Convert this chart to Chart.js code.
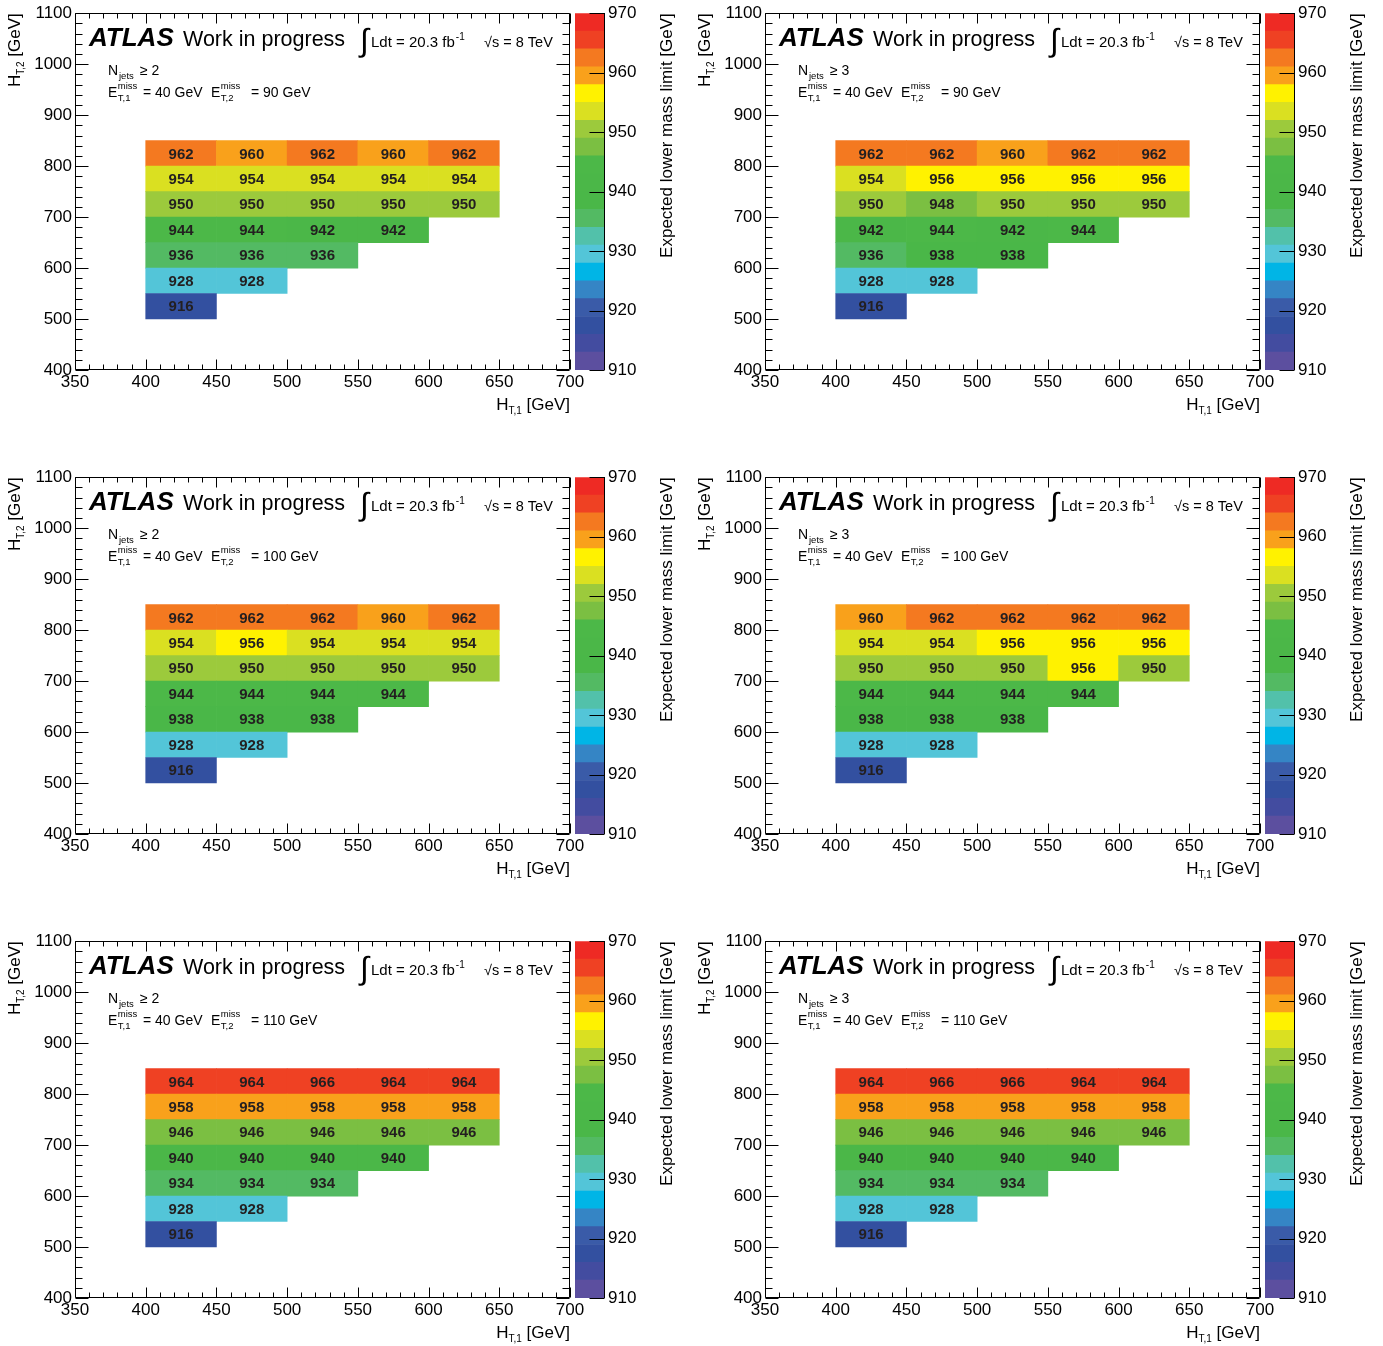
<!DOCTYPE html>
<html>
<head>
<meta charset="utf-8">
<script src="https://cdn.jsdelivr.net/npm/chart.js@4/dist/chart.umd.min.js"></script>
<style>
html,body{margin:0;padding:0;background:#fff;}
#wrap{position:relative;width:1383px;height:1346px;overflow:hidden;}
.panel{position:absolute;width:690px;height:464px;}
.panel canvas{position:absolute;}
</style>
</head>
<body>
<div id="wrap"></div>
<script>
// ---------------- DATA ----------------
const xEdges = [400, 450, 500, 550, 600, 650];            // H_T,1 bin edges [GeV]
const yEdges = [500, 550, 600, 650, 700, 750, 800, 850];  // H_T,2 bin edges [GeV]
const xTicks = [350, 400, 450, 500, 550, 600, 650, 700];
const yTicks = [400, 500, 600, 700, 800, 900, 1000, 1100];
const zTicks = [910, 920, 930, 940, 950, 960, 970];
const paletteEdges = [910, 913, 916, 919, 922, 925, 928, 931, 934, 937, 940, 943, 946, 949, 952, 955, 958, 961, 964, 967, 970];
const paletteColors = ['#5C4F9F', '#434CA0', '#3350A0', '#3A5BA8', '#3585C5', '#00B5E6', '#53C5D8', '#52C1AA', '#53BA63', '#4AB748',
                       '#4BB748', '#4CB848', '#7BBF42', '#9CCA3C', '#DAE021', '#FFF200', '#F9A11B', '#F47920', '#EF4123', '#EE2A24'];

// rows listed from top (H_T,2 800-850) to bottom (500-550); columns from H_T,1 = 400
const limitsNj2Met90 = [
  [962, 960, 962, 960, 962],
  [954, 954, 954, 954, 954],
  [950, 950, 950, 950, 950],
  [944, 944, 942, 942],
  [936, 936, 936],
  [928, 928],
  [916]
];
const limitsNj3Met90 = [
  [962, 962, 960, 962, 962],
  [954, 956, 956, 956, 956],
  [950, 948, 950, 950, 950],
  [942, 944, 942, 944],
  [936, 938, 938],
  [928, 928],
  [916]
];
const limitsNj2Met100 = [
  [962, 962, 962, 960, 962],
  [954, 956, 954, 954, 954],
  [950, 950, 950, 950, 950],
  [944, 944, 944, 944],
  [938, 938, 938],
  [928, 928],
  [916]
];
const limitsNj3Met100 = [
  [960, 962, 962, 962, 962],
  [954, 954, 956, 956, 956],
  [950, 950, 950, 956, 950],
  [944, 944, 944, 944],
  [938, 938, 938],
  [928, 928],
  [916]
];
const limitsNj2Met110 = [
  [964, 964, 966, 964, 964],
  [958, 958, 958, 958, 958],
  [946, 946, 946, 946, 946],
  [940, 940, 940, 940],
  [934, 934, 934],
  [928, 928],
  [916]
];
const limitsNj3Met110 = [
  [964, 966, 966, 964, 964],
  [958, 958, 958, 958, 958],
  [946, 946, 946, 946, 946],
  [940, 940, 940, 940],
  [934, 934, 934],
  [928, 928],
  [916]
];
const panelNjets = ['2', '3', '2', '3', '2', '3'];
const panelMet1 = [40, 40, 40, 40, 40, 40];
const panelMet2 = [90, 90, 100, 100, 110, 110];
const panelValues = [limitsNj2Met90, limitsNj3Met90, limitsNj2Met100, limitsNj3Met100, limitsNj2Met110, limitsNj3Met110];

// ---------------- HELPERS ----------------
const FONT = '"Liberation Sans", Arial, Helvetica, sans-serif';
Chart.defaults.font.family = FONT;
Chart.defaults.color = '#000';

function binColor(v) {
  for (let i = 0; i < paletteColors.length; i++) {
    if (v >= paletteEdges[i] && v < paletteEdges[i + 1]) return paletteColors[i];
  }
  return v >= paletteEdges[paletteEdges.length - 1] ? paletteColors[paletteColors.length - 1] : paletteColors[0];
}

function buildCells(values) {
  const cells = [];
  const n = values.length;
  values.forEach((row, r) => {
    const lo = yEdges[n - 1 - r], hi = yEdges[n - r];
    row.forEach((v, c) => cells.push({ x: (xEdges[c] + xEdges[c + 1]) / 2, y: [lo, hi], v: v }));
  });
  return cells;
}

function richWidth(ctx, parts) {
  let w = 0;
  parts.forEach(p => { ctx.font = p[1] + 'px ' + FONT; w += ctx.measureText(p[0]).width; });
  return w;
}
function drawRich(ctx, parts, x, y) {
  let cx = x;
  parts.forEach(p => {
    ctx.font = p[1] + 'px ' + FONT;
    ctx.fillText(p[0], cx, y + p[2]);
    cx += ctx.measureText(p[0]).width;
  });
}
function drawMet(ctx, x, y, sub) {
  ctx.font = '14px ' + FONT;
  ctx.fillText('E', x, y);
  const w = ctx.measureText('E').width;
  ctx.font = '9.5px ' + FONT;
  ctx.fillText('miss', x + w + 0.5, y - 8);
  ctx.fillText(sub, x + w + 0.5, y + 4);
}

const cellLabels = {
  id: 'cellLabels',
  afterDatasetsDraw(chart) {
    const ctx = chart.ctx;
    const meta = chart.getDatasetMeta(0);
    const data = chart.data.datasets[0].data;
    ctx.save();
    ctx.font = 'bold 15px ' + FONT;
    ctx.fillStyle = '#231F20';
    ctx.textAlign = 'center';
    ctx.textBaseline = 'middle';
    meta.data.forEach((el, i) => {
      const p = el.getProps(['x', 'y', 'base'], true);
      ctx.fillText(String(data[i].v), p.x, (p.y + p.base) / 2 + 1);
    });
    ctx.restore();
  }
};

const rootFrame = {
  id: 'rootFrame',
  afterDraw(chart) {
    const { ctx, chartArea: a, scales: { x, y } } = chart;
    ctx.save();
    ctx.strokeStyle = '#000';
    ctx.lineWidth = 1;
    ctx.beginPath();
    const L = Math.round(a.left) + 0.5, R = Math.round(a.right) - 0.5;
    const T = Math.round(a.top) + 0.5, B = Math.round(a.bottom) - 0.5;
    ctx.rect(L, T, R - L, B - T);
    const xStep = (xTicks[1] - xTicks[0]) / 5;
    for (let v = xTicks[0]; v <= xTicks[xTicks.length - 1]; v += xStep) {
      const px = Math.round(x.getPixelForValue(v)) + 0.5;
      const len = xTicks.includes(v) ? 10 : 5;
      ctx.moveTo(px, B); ctx.lineTo(px, B - len);
      ctx.moveTo(px, T); ctx.lineTo(px, T + len);
    }
    const yStep = (yTicks[1] - yTicks[0]) / 5;
    for (let v = yTicks[0]; v <= yTicks[yTicks.length - 1]; v += yStep) {
      const py = Math.round(y.getPixelForValue(v)) + 0.5;
      const len = yTicks.includes(v) ? 13 : 7;
      ctx.moveTo(L, py); ctx.lineTo(L + len, py);
      ctx.moveTo(R, py); ctx.lineTo(R - len, py);
    }
    ctx.stroke();
    ctx.restore();
  }
};

const atlasText = {
  id: 'atlasText',
  afterDraw(chart, args, opts) {
    const ctx = chart.ctx;
    const a = chart.chartArea;
    ctx.save();
    ctx.fillStyle = '#000';
    ctx.textAlign = 'left';
    ctx.textBaseline = 'alphabetic';
    ctx.font = 'italic bold 26px ' + FONT;
    ctx.fillText('ATLAS', 89, 46);
    ctx.font = '21.5px ' + FONT;
    ctx.fillText('Work in progress', 183, 46);
    // luminosity
    ctx.font = '32px ' + FONT;
    ctx.fillText('\u222B', 360, 51);
    ctx.font = '15px ' + FONT;
    ctx.fillText('Ldt = 20.3 fb', 371, 47);
    const lw = ctx.measureText('Ldt = 20.3 fb').width;
    ctx.font = '10px ' + FONT;
    ctx.fillText('-1', 371 + lw + 1, 40);
    ctx.font = '14.5px ' + FONT;
    ctx.fillText('\u221As = 8 TeV', 484, 47);
    // selection
    ctx.font = '14px ' + FONT;
    ctx.fillText('N', 108, 75);
    ctx.font = '9.5px ' + FONT;
    ctx.fillText('jets', 119, 79);
    ctx.font = '14px ' + FONT;
    ctx.fillText('\u2265 ' + opts.njets, 140, 75);
    drawMet(ctx, 108, 97, 'T,1');
    ctx.font = '14px ' + FONT;
    ctx.fillText('= ' + opts.met1 + ' GeV', 143, 97);
    drawMet(ctx, 211, 97, 'T,2');
    ctx.font = '14px ' + FONT;
    ctx.fillText('= ' + opts.met2 + ' GeV', 251, 97);
    // x-axis title
    const xt = [['H', 17, 0], ['T,1', 10, 4], [' [GeV]', 17, 0]];
    const xw = richWidth(ctx, xt);
    drawRich(ctx, xt, a.right - xw, 410);
    // y-axis title (rotated)
    const yt = [['H', 17, 0], ['T,2', 10, 4], [' [GeV]', 17, 0]];
    const yw = richWidth(ctx, yt);
    ctx.translate(20, a.top);
    ctx.rotate(-Math.PI / 2);
    drawRich(ctx, yt, -yw, 0);
    ctx.restore();
  }
};

const cbarDeco = {
  id: 'cbarDeco',
  afterDraw(chart) {
    const { ctx, chartArea: a, scales: { y } } = chart;
    ctx.save();
    ctx.strokeStyle = '#000';
    ctx.lineWidth = 1;
    ctx.beginPath();
    const R = Math.round(a.right) - 0.5;
    ctx.moveTo(R, Math.round(a.top)); ctx.lineTo(R, Math.round(a.bottom));
    zTicks.forEach(v => {
      const py = Math.round(y.getPixelForValue(v)) + 0.5;
      ctx.moveTo(R, py); ctx.lineTo(R - 15, py);
    });
    ctx.stroke();
    ctx.fillStyle = '#000';
    ctx.font = '17px ' + FONT;
    ctx.textAlign = 'right';
    ctx.textBaseline = 'alphabetic';
    ctx.translate(112, a.top);
    ctx.rotate(-Math.PI / 2);
    ctx.fillText('Expected lower mass limit [GeV]', 0, 0);
    ctx.restore();
  }
};

// ---------------- BUILD PANELS ----------------
const wrap = document.getElementById('wrap');
const colLeft = [0, 690];
const rowTop = [0, 464, 928];

panelValues.forEach((values, i) => {
  const panel = document.createElement('div');
  panel.className = 'panel';
  panel.style.left = colLeft[i % 2] + 'px';
  panel.style.top = rowTop[Math.floor(i / 2)] + 'px';
  wrap.appendChild(panel);

  const cMain = document.createElement('canvas');
  cMain.width = 600; cMain.height = 420;
  cMain.style.left = '0px'; cMain.style.top = '0px';
  panel.appendChild(cMain);

  const cBar = document.createElement('canvas');
  cBar.width = 130; cBar.height = 420;
  cBar.style.left = '560px'; cBar.style.top = '0px';
  panel.appendChild(cBar);

  new Chart(cMain, {
    type: 'bar',
    data: {
      datasets: [{
        data: buildCells(values),
        backgroundColor: c => binColor(c.raw ? c.raw.v : 0),
        borderWidth: 0,
        barPercentage: 1,
        categoryPercentage: 1
      }]
    },
    options: {
      responsive: false,
      animation: false,
      events: [],
      layout: { padding: { top: 10, right: 30, left: 0, bottom: 0 } },
      plugins: {
        legend: { display: false },
        tooltip: { enabled: false },
        atlasText: { njets: panelNjets[i], met1: panelMet1[i], met2: panelMet2[i] }
      },
      scales: {
        x: {
          type: 'linear', min: xTicks[0], max: xTicks[xTicks.length - 1],
          offset: false,
          grid: { display: false, offset: false, drawTicks: false },
          border: { display: false },
          afterBuildTicks: s => { s.ticks = xTicks.map(v => ({ value: v })); },
          afterFit: s => { s.height = 50; },
          ticks: { callback: v => String(v), font: { size: 17 }, color: '#000', padding: 2, maxRotation: 0, autoSkip: false }
        },
        y: {
          type: 'linear', min: yTicks[0], max: yTicks[yTicks.length - 1],
          grid: { display: false, drawTicks: false },
          border: { display: false },
          afterBuildTicks: s => { s.ticks = yTicks.map(v => ({ value: v })); },
          afterFit: s => { s.width = 75; },
          ticks: { callback: v => String(v), font: { size: 17 }, color: '#000', padding: 3, autoSkip: false }
        }
      }
    },
    plugins: [cellLabels, rootFrame, atlasText]
  });

  new Chart(cBar, {
    type: 'bar',
    data: {
      labels: ['z'],
      datasets: paletteColors.map((col, k) => ({
        data: [[paletteEdges[k], paletteEdges[k + 1]]],
        backgroundColor: col,
        borderWidth: 0,
        barPercentage: 1,
        categoryPercentage: 1,
        grouped: false
      }))
    },
    options: {
      responsive: false,
      animation: false,
      events: [],
      layout: { padding: { top: 10, right: 0, left: 15, bottom: 50 } },
      plugins: { legend: { display: false }, tooltip: { enabled: false } },
      scales: {
        x: { display: false },
        y: {
          position: 'right', min: zTicks[0], max: zTicks[zTicks.length - 1],
          grid: { display: false, drawTicks: false },
          border: { display: false },
          afterBuildTicks: s => { s.ticks = zTicks.map(v => ({ value: v })); },
          afterFit: s => { s.width = 85; },
          ticks: { callback: v => String(v), font: { size: 17 }, color: '#000', padding: 3, autoSkip: false }
        }
      }
    },
    plugins: [cbarDeco]
  });
});
</script>
</body>
</html>
